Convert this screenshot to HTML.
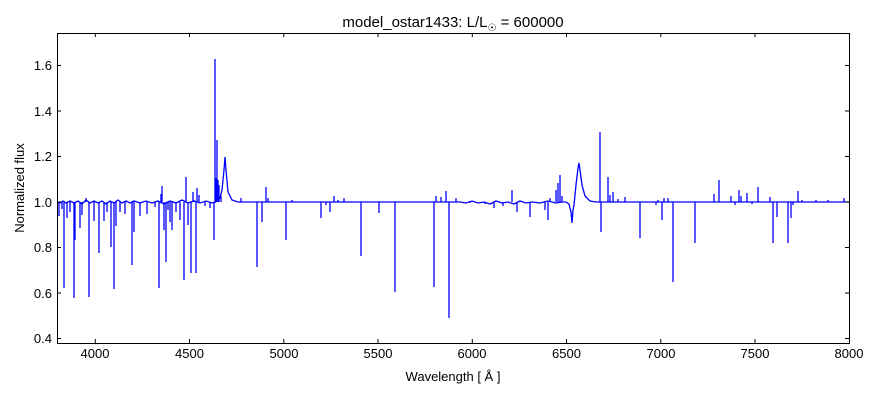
<!DOCTYPE html>
<html><head><style>
body{margin:0;background:#fff;}
svg text{font-family:"Liberation Sans","DejaVu Sans",sans-serif;font-size:13px;fill:#000;}
</style></head><body>
<svg width="880" height="400" xmlns="http://www.w3.org/2000/svg">
<rect width="880" height="400" fill="#fff"/>
<g stroke="#0000ff" stroke-width="1.3" fill="none">
<path d="M57 202 L60 203 L63 201 L66 203 L70 201 L74 203 L78 201 L82 204 L86 200 L90 203 L94 201 L98 203 L102 201 L106 204 L110 201 L114 203 L118 200 L122 203 L126 201 L130 203 L134 201 L140 203 L146 201 L152 203 L158 201 L164 204 L170 201 L176 203 L182 200 L188 203 L194 201 L200 203 L206 201 L212 203 L216 202 M238 202 H460 L466 203 L472 201 L478 203 L484 202 L490 204 L496 201 L502 203 L508 202 L514 204 L520 201 L526 203 L532 202 L540 203 L548 201 L556 203 L562 202 L566 202 M596 202 H849"/>
<path d="M216 202 L220 198 L222 190 L224 170 L225 157 L226 170 L228 192 L232 200 L238 202"/>
<path d="M566 202 L569 204 L571 212 L572 223 L573 210 L574 205 L576 185 L578 168 L579 163 L580 170 L582 185 L585 196 L590 201 L596 202"/>
<path d="M59 202V216 M62 202V209 M64 202V288 M67 202V218 M70 202V212 M74 202V298 M75 202V240 M80 202V228 M82 202V215 M86 202V198 M89 202V297 M94 202V221 M99 202V253 M104 202V221 M107 202V212 M111 202V247 M114 202V289 M116 202V226 M120 202V212 M125 202V214 M132 202V265 M134 202V232 M140 202V216 M147 202V214 M155 202V207 M159 202V288 M161 202V194 M162 202V186 M164 202V230 M166 202V262 M168 202V210 M170 202V222 M172 202V230 M176 202V212 M180 202V220 M184 202V280 M186 202V177 M188 202V225 M191 202V273 M193 202V192 M194 202V200 M196 202V273 M197 202V188 M199 202V195 M205 202V206 M210 202V208 M214 202V240 M215 202V59 M216 202V178 M217 202V140 M218 202V180 M219 202V185 M221 202V196 M241 202V198 M257 202V267 M262 202V222 M266 202V187 M268 202V198 M286 202V240 M292 202V200 M321 202V218 M326 202V205 M330 202V212 M334 202V196 M338 202V200 M344 202V198 M361 202V256 M379 202V213 M395 202V292 M434 202V287 M436 202V196 M441 202V197 M446 202V191 M449 202V318 M456 202V198 M470 202V203 M485 202V204 M494 202V208 M503 202V206 M512 202V190 M517 202V212 M530 202V217 M545 202V210 M548 202V220 M550 202V198 M556 202V190 M558 202V183 M560 202V175 M562 202V196 M600 202V132 M601 202V232 M608 202V177 M610 202V195 M613 202V192 M618 202V199 M625 202V197 M640 202V238 M656 202V205 M658 202V200 M662 202V220 M664 202V198 M668 202V198 M673 202V282 M695 202V243 M714 202V194 M719 202V180 M731 202V196 M735 202V205 M739 202V190 M741 202V196 M747 202V193 M752 202V204 M758 202V187 M770 202V197 M773 202V243 M777 202V217 M788 202V243 M791 202V218 M793 202V205 M798 202V191 M802 202V200 M816 202V200 M828 202V200 M844 202V198"/>
</g>
<rect x="57.5" y="33.5" width="792" height="310" fill="none" stroke="#000" stroke-width="1"/>
<g stroke="#000" stroke-width="1">
<path d="M95.3 343V339 M189.5 343V339 M283.8 343V339 M378 343V339 M472.3 343V339 M566.5 343V339 M660.8 343V339 M755 343V339 M95.3 33V37 M189.5 33V37 M283.8 33V37 M378 33V37 M472.3 33V37 M566.5 33V37 M660.8 33V37 M755 33V37"/>
<path d="M57 338.5H61 M57 293H61 M57 247.5H61 M57 202H61 M57 156.5H61 M57 111H61 M57 65.5H61 M849 338.5H845 M849 293H845 M849 247.5H845 M849 202H845 M849 156.5H845 M849 111H845 M849 65.5H845"/>
</g>
<g text-anchor="middle">
<text x="95" y="358">4000</text><text x="189.5" y="358">4500</text><text x="284" y="358">5000</text><text x="378" y="358">5500</text><text x="472" y="358">6000</text><text x="566.5" y="358">6500</text><text x="661" y="358">7000</text><text x="755" y="358">7500</text><text x="849" y="358">8000</text>
</g>
<g text-anchor="end">
<text x="52" y="343">0.4</text><text x="52" y="298">0.6</text><text x="52" y="252">0.8</text><text x="52" y="207">1.0</text><text x="52" y="161">1.2</text><text x="52" y="116">1.4</text><text x="52" y="70">1.6</text>
</g>
<text x="453" y="381" text-anchor="middle">Wavelength [ Å ]</text>
<text transform="translate(24 188) rotate(-90)" text-anchor="middle">Normalized flux</text>
<text x="453" y="27" text-anchor="middle" style="font-size:15px">model_ostar1433: L/L<tspan style="font-size:10px" dy="4">☉</tspan><tspan dy="-4"> = 600000</tspan></text>
</svg>
</body></html>
